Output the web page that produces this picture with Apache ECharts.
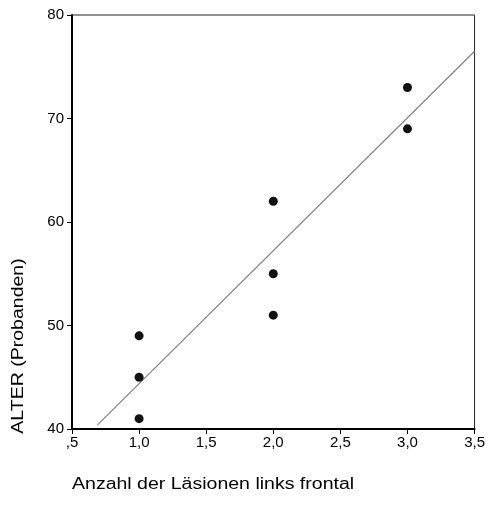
<!DOCTYPE html>
<html><head><meta charset="utf-8">
<script src="https://cdn.jsdelivr.net/npm/echarts@6/dist/echarts.min.js"></script>
<style>html,body{margin:0;padding:0;background:#fff}#c{width:488px;height:505px}</style>
</head><body><div id="c"></div>
<script>
const xValues = [1, 1, 1, 2, 2, 2, 3, 3];
const yValues = [49, 45, 41, 62, 55, 51, 73, 69];
const fitX = [0.69, 3.5];
const fitY = [40.4, 76.5];
const xTitle = 'Anzahl der Läsionen links frontal';
const yTitle = 'ALTER (Probanden)';

const pts = xValues.map((x, i) => [x, yValues[i]]);
const fit = fitX.map((x, i) => [x, fitY[i]]);
const fam = 'Liberation Sans';
const chart = echarts.init(document.getElementById('c'));
chart.setOption({
  animation: false,
  textStyle: { fontFamily: fam },
  grid: { left: 72, right: 11, top: 15, bottom: 76, show: true, borderColor: '#222', borderWidth: 1 },
  xAxis: {
    type: 'value', min: 0.5, max: 3.5, interval: 0.5,
    axisLine: { show: true, onZero: false, lineStyle: { color: '#000', width: 2 } },
    axisTick: { show: true, length: 5, lineStyle: { color: '#000', width: 1 } },
    splitLine: { show: false },
    axisLabel: { fontFamily: fam, fontSize: 15, color: '#000', margin: 6,
      formatter: v => { let s = v.toFixed(1).replace('.', ','); return s.startsWith('0') ? s.slice(1) : s; } }
  },
  yAxis: {
    type: 'value', min: 40, max: 80, interval: 10,
    axisLine: { show: true, onZero: false, lineStyle: { color: '#000', width: 2 } },
    axisTick: { show: true, length: 5, lineStyle: { color: '#000', width: 1 } },
    splitLine: { show: false },
    axisLabel: { fontFamily: fam, fontSize: 15, color: '#000', margin: 8 }
  },
  series: [
    { type: 'line', data: fit, symbol: 'none', lineStyle: { color: '#808080', width: 1.2 }, z: 2 },
    { type: 'scatter', data: pts, symbol: 'circle', symbolSize: 9, itemStyle: { color: '#111', opacity: 1 }, z: 3 }
  ],
  graphic: [
    { type: 'text', x: 72, y: 485, scaleX: 1.22, style: { text: xTitle, fontFamily: fam, fontSize: 16, fill: '#000', align: 'left', verticalAlign: 'middle' } },
    { type: 'text', x: 19, y: 346, rotation: Math.PI / 2, scaleX: 1.22, style: { text: yTitle, fontFamily: fam, fontSize: 16, fill: '#000', align: 'center', verticalAlign: 'middle' } }
  ]
});
</script></body></html>
